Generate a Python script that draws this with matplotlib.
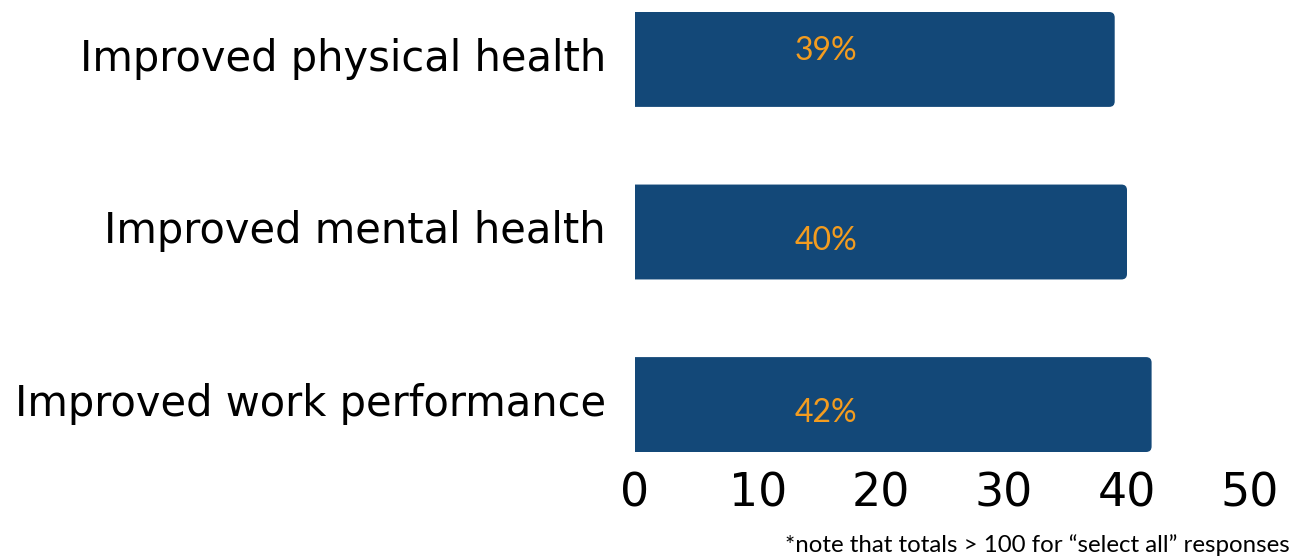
import matplotlib.pyplot as plt
from matplotlib.patches import FancyBboxPatch
from matplotlib.transforms import ScaledTranslation

# Daten
categories = ['Improved physical health', 'Improved mental health', 'Improved work performance']
values = [39, 40, 42]
value_labels = ['39%', '40%', '42%']
ticks = [0, 10, 20, 30, 40, 50]
note = '*note that totals > 100 for \u201cselect all\u201d responses'

bar_color = '#134878'
label_color = '#F39C1F'
label_x = 15.5                     # Position der Prozentangaben
label_dy = [-0.05, 0.05, 0.05]     # kleine vertikale Versätze wie im Original

fig = plt.figure(figsize=(12.92, 5.58), dpi=100)
ax = fig.add_axes([635 / 1292, 1 - 452 / 558, (1250 - 635) / 1292, 440 / 558])

y = list(range(len(categories)))
bars = ax.barh(y, values, height=0.55, color=bar_color)

# rechte Ecken leicht abrunden
r = 0.45
aspect = (615 / 50) / (440 / 2.55)
for b in bars:
    b.set_visible(False)
    bx, by = b.get_xy()
    rounded = FancyBboxPatch((bx - r, by), b.get_width() + r, b.get_height(),
                             boxstyle=f'round,pad=0,rounding_size={r}',
                             mutation_aspect=aspect, facecolor=bar_color,
                             edgecolor='none', clip_on=True)
    ax.add_patch(rounded)

for i, lab in enumerate(value_labels):
    ax.text(label_x, y[i] + label_dy[i], lab, color=label_color, fontsize=23,
            family='Lato', ha='center', va='center')

ax.set_xlim(0, 50)
ax.set_ylim(len(categories) - 1 + 0.275, -0.275)
ax.set_xticks(ticks)
ax.set_xticklabels([str(t) for t in ticks], fontsize=33, family='DejaVu Sans')
ax.set_yticks(y)
ax.set_yticklabels(categories, fontsize=30, family='DejaVu Sans')
ax.tick_params(axis='both', length=0)
ax.tick_params(axis='x', pad=14)
ax.tick_params(axis='y', pad=21)
for lbl in ax.get_yticklabels():
    lbl.set_transform(lbl.get_transform() + ScaledTranslation(0, 0.05, fig.dpi_scale_trans))
for s in ax.spines.values():
    s.set_visible(False)

fig.text(1290 / 1292, 1 - 545 / 558, note, ha='right', va='center',
         fontsize=17.3, family='Lato')

fig.savefig('out.png', dpi=100)
